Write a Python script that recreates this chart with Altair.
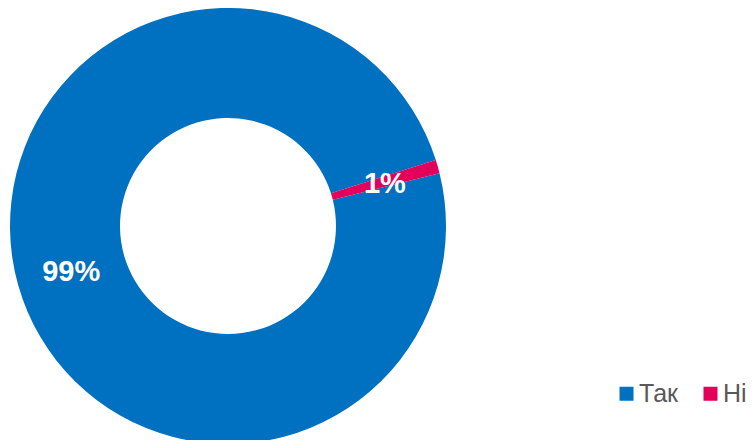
import altair as alt
import pandas as pd
import math

categories = ["Так", "Ні"]
values = [99, 1]
labels = ["99%", "1%"]
colors = ["#0070C0", "#E2005A"]

df = pd.DataFrame({"cat": categories, "val": values, "label": labels, "order": [0, 1]})

start = math.radians(76)
theta_scale = alt.Scale(range=[start, start + 2 * math.pi])

base = alt.Chart(df).encode(
    theta=alt.Theta("val:Q", stack=True, scale=theta_scale),
    order=alt.Order("order:Q"),
    x=alt.value(220),
    y=alt.value(217),
)

arcs = base.mark_arc(outerRadius=218, innerRadius=108, stroke=None).encode(
    color=alt.Color(
        "cat:N",
        scale=alt.Scale(domain=categories, range=colors),
        sort=categories,
        legend=alt.Legend(
            title=None,
            orient="none",
            legendX=606,
            legendY=372,
            direction="horizontal",
            symbolType="square",
            symbolSize=196,
            symbolStrokeWidth=0,
            labelFontSize=25,
            labelFont="Liberation Sans",
            labelColor="#595959",
            labelOffset=0,
            columnPadding=20,
            padding=0,
        ),
    )
)

text = base.mark_text(
    radius=163, font="Liberation Sans", fontWeight="bold", fontSize=29,
    color="white", align="center", baseline="middle", dy=2
).encode(text="label:N")

chart = (arcs + text).properties(
    width=739, height=432,
    autosize=alt.AutoSizeParams(type="fit", contains="padding"),
    padding=0,
).configure_view(stroke=None)

chart.save("out.html", embed_options={"renderer": "svg", "actions": False})
